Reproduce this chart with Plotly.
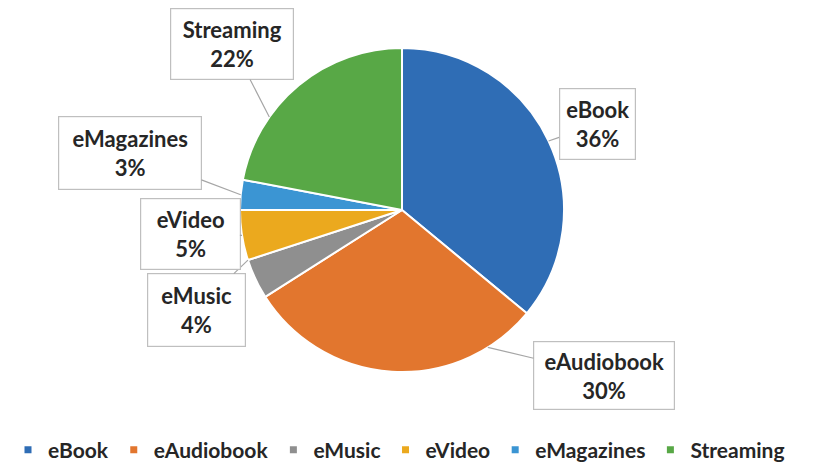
import math
import plotly.graph_objects as go

categories = ["eBook", "eAudiobook", "eMusic", "eVideo", "eMagazines", "Streaming"]
values = [36, 30, 4, 5, 3, 22]
pct_labels = ["36%", "30%", "4%", "5%", "3%", "22%"]
colors = ["#2F6DB5", "#E2762E", "#8F8F8F", "#EBA91E", "#3B95D3", "#58A846"]

W, H = 816, 465
OFF = 8  # page body margin offset
CX, CY, R = 402 - OFF, 210 - OFF, 162
# callout box centres (px, page coords) and leader angles (deg clockwise from top)
box_centres = [(597, 124), (604, 375), (196, 310), (190, 234), (130, 153), (232, 44)]
box_sizes = [(73, 68), (138, 65), (95, 70), (97, 68), (140, 70), (120, 68)]
tip_angles = [None, 148, 252, None, None, 305]

FONT = "Lato"

fig = go.Figure()
fig.add_trace(go.Pie(
    labels=categories, values=values, sort=False, direction="clockwise",
    rotation=0, textinfo="none", hoverinfo="label+percent",
    marker=dict(colors=colors, line=dict(color="white", width=2)),
    domain=dict(x=[(CX - R) / W, (CX + R) / W], y=[1 - (CY + R) / H, 1 - (CY - R) / H]),
    showlegend=False,
))

for c, col in zip(categories, colors):
    fig.add_trace(go.Scatter(x=[None], y=[None], mode="markers", name=c,
                             marker=dict(symbol="square", size=7, color=col)))

total = sum(values)
cum = 0
annotations = []
for i, (c, v) in enumerate(zip(categories, values)):
    mid = (cum + v / 2) / total * 360
    cum += v
    ang = tip_angles[i] if tip_angles[i] is not None else mid
    a = math.radians(ang)
    tx = CX + R * math.sin(a)
    ty = CY - R * math.cos(a)
    bx, by = box_centres[i]
    bx, by = bx - OFF, by - OFF
    bw, bh = box_sizes[i]
    annotations.append(dict(
        x=tx / W, y=1 - ty / H, xref="paper", yref="paper",
        text=f"{c}<br>{pct_labels[i]}", showarrow=True, arrowhead=0,
        arrowcolor="#A6A6A6", arrowwidth=1.2, standoff=0,
        ax=bx - tx, ay=by - ty, width=bw, height=bh,
        bordercolor="#BFBFBF", borderwidth=1.2, bgcolor="white",
        font=dict(family=FONT, size=22, color="#262626", weight="bold"),
        align="center", valign="middle",
    ))

fig.update_layout(
    width=W, height=H, margin=dict(l=0, r=0, t=0, b=0),
    paper_bgcolor="white", plot_bgcolor="white",
    xaxis=dict(visible=False), yaxis=dict(visible=False),
    annotations=annotations,
    legend=dict(orientation="h", x=(398 - OFF) / W, xanchor="center",
                y=1 - (450 - OFF) / H, yanchor="middle",
                font=dict(family=FONT, size=21, color="#262626", weight="bold"),
                itemclick=False, itemdoubleclick=False),
)

fig.write_html("out.html")
